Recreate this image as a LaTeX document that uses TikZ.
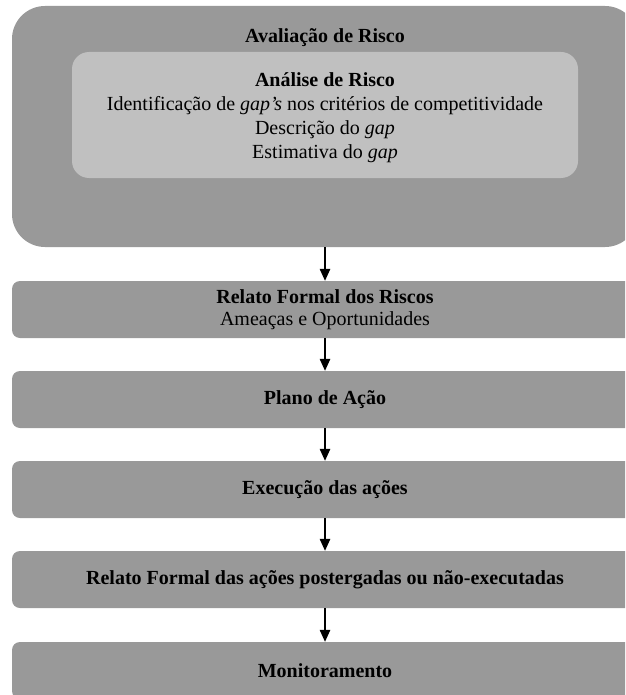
\documentclass[tikz,border=0pt]{standalone}
\usepackage{fontspec}
\setmainfont{Liberation Serif}
\usetikzlibrary{arrows.meta}
\definecolor{boxgray}{RGB}{153,153,153}
\definecolor{innergray}{RGB}{192,192,192}
\tikzset{
  stagebox/.style={rectangle, fill=boxgray, rounded corners=8pt,
    minimum width=626pt, minimum height=57pt, inner sep=0pt,
    align=center, font=\fontsize{20}{22}\selectfont},
  flowarrow/.style={line width=1.3pt,
    -{Triangle[width=10.5pt,length=12pt]}},
}
\begin{document}
\begin{tikzpicture}[x=1pt, y=-1pt]
  \useasboundingbox (0,0) rectangle (625,695);
  \clip (0,0) rectangle (625,695);

  % risk assessment block with the nested analysis panel
  \node[rectangle, fill=boxgray, rounded corners=33pt,
        minimum width=626pt, minimum height=241pt, inner sep=0pt]
        (aval) at (325,126.5) {};
  \node[anchor=base, font=\fontsize{20}{24}\selectfont\bfseries]
        (avaltitle) at (325,43) {Avaliação de Risco};
  \node[rectangle, fill=innergray, rounded corners=17pt,
        minimum width=506pt, minimum height=126pt, inner sep=0pt]
        (analise) at (325,115) {};
  \node[align=center, inner sep=0pt, font=\fontsize{20}{24}\selectfont]
        (analisetext) at (325,117.5)
        {\textbf{Análise de Risco}\\
         Identificação de \textit{gap’s} nos critérios de competitividade\\
         Descrição do \textit{gap}\\
         Estimativa do \textit{gap}};

  % subsequent stages
  \node[stagebox] (relato)  at (325,309.5)
        {\textbf{Relato Formal dos Riscos}\\Ameaças e Oportunidades};
  \node[stagebox] (plano)   at (325,399.5) {\textbf{Plano de Ação}};
  \node[stagebox] (exec)    at (325,489.5) {\textbf{Execução das ações}};
  \node[stagebox] (relato2) at (325,579.5)
        {\textbf{Relato Formal das ações postergadas ou não-executadas}};
  \node[stagebox] (monit)   at (325,670.5) {\textbf{Monitoramento}};

  % connectors
  \draw[flowarrow] (aval.south)    -- (relato.north);
  \draw[flowarrow] (relato.south)  -- (plano.north);
  \draw[flowarrow] (plano.south)   -- (exec.north);
  \draw[flowarrow] (exec.south)    -- (relato2.north);
  \draw[flowarrow] (relato2.south) -- (monit.north);
\end{tikzpicture}
\end{document}
